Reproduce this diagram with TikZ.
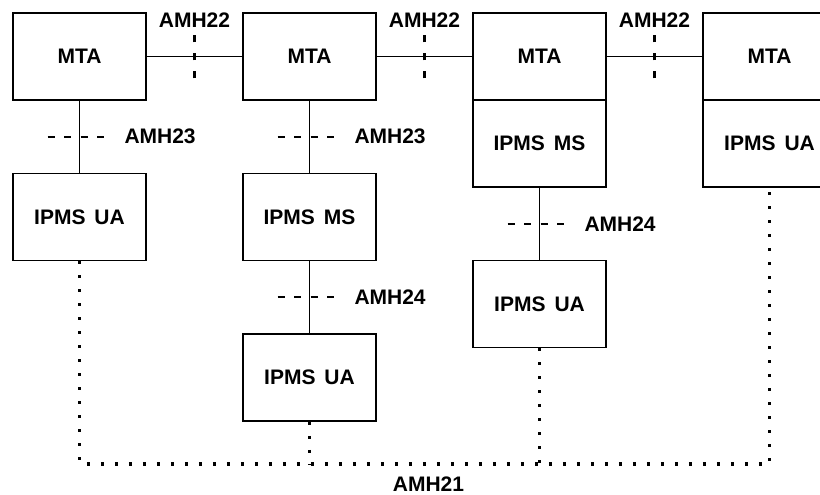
\documentclass[tikz,border=0pt]{standalone}
\usepackage{fontspec}
\setmainfont{Liberation Sans}
\usetikzlibrary{positioning}
\tikzset{
  box/.style={draw, rectangle, line width=1.5pt, minimum width=133pt,
              minimum height=87pt, inner sep=0pt, align=center,
              font=\bfseries\fontsize{21}{25}\selectfont},
  link/.style={line width=1.5pt},
  hmark/.style={line width=2pt, dash pattern=on 7pt off 9.5pt},
  vmark/.style={line width=3pt, dash pattern=on 7pt off 11pt},
  ref/.style={line width=3.2pt, dash pattern=on 3.2pt off 10.8pt},
  lbl/.style={inner sep=0pt, font=\bfseries\fontsize{21}{25}\selectfont}
}

\begin{document}
\begin{tikzpicture}[x=1pt, y=-1pt, node distance=72pt and 95.5pt]
  \useasboundingbox (0,0) rectangle (820,495);
  \clip (0,0) rectangle (820,495);

  \node[box] (mta1) at (79.5,56.5) {MTA};
  \node[box, right=of mta1] (mta2) {MTA};
  \node[box, right=of mta2] (mta3) {MTA};
  \node[box, right=of mta3] (mta4) {MTA};
  \node[box, below=of mta1] (ua1) {IPMS\hspace{9pt}UA};
  \node[box, below=of mta2] (ms2) {IPMS\hspace{9pt}MS};
  \node[box, below=of ms2] (ua2) {IPMS\hspace{9pt}UA};
  \node[box, below=-1.5pt of mta3] (ms3) {IPMS\hspace{9pt}MS};
  \node[box, below=of ms3] (ua3) {IPMS\hspace{9pt}UA};
  \node[box, below=-1.5pt of mta4] (ua4) {IPMS\hspace{9pt}UA};
  \coordinate (bus) at (0,464);

  \draw[link] (mta1) -- coordinate (p12) (mta2);
  \draw[link] (mta2) -- coordinate (p23) (mta3);
  \draw[link] (mta3) -- coordinate (p34) (mta4);
  \draw[link] (mta1) -- coordinate (q1) (ua1);
  \draw[link] (mta2) -- coordinate (q2) (ms2);
  \draw[link] (ms2) -- coordinate (q3) (ua2);
  \draw[link] (ms3) -- coordinate (q4) (ua3);

  \draw[vmark] (p12) ++(0,22) -- ++(0,-43) node[above=6pt, lbl] {AMH22};
  \draw[vmark] (p23) ++(0,22) -- ++(0,-43) node[above=6pt, lbl] {AMH22};
  \draw[vmark] (p34) ++(0,22) -- ++(0,-43) node[above=6pt, lbl] {AMH22};

  \draw[hmark] (q1) ++(-32,0) -- ++(63,0) node[right=13pt, lbl] {AMH23};
  \draw[hmark] (q2) ++(-32,0) -- ++(63,0) node[right=13pt, lbl] {AMH23};
  \draw[hmark] (q3) ++(-32,0) -- ++(63,0) node[right=13pt, lbl] {AMH24};
  \draw[hmark] (q4) ++(-32,0) -- ++(63,0) node[right=13pt, lbl] {AMH24};

  \draw[ref] (ua1) -- (ua1 |- bus) -- node[below=11pt, xshift=4pt, lbl] {AMH21} (ua4 |- bus) -- (ua4);
  \draw[ref] (ua2) -- (ua2 |- bus);
  \draw[ref] (ua3) -- (ua3 |- bus);
\end{tikzpicture}
\end{document}
